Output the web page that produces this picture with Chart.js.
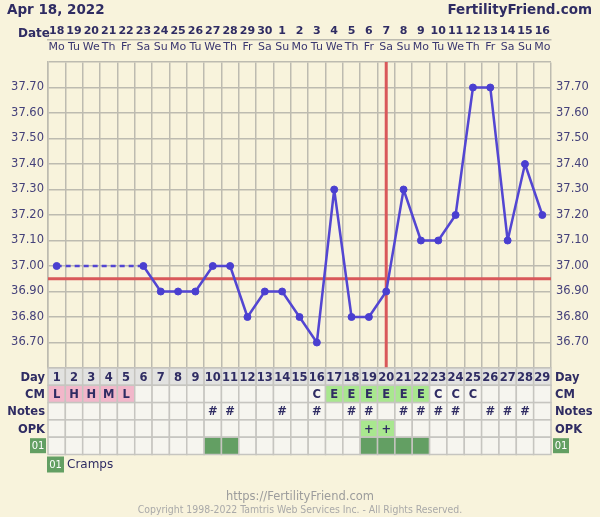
<!DOCTYPE html>
<html>
<head>
<meta charset="utf-8">
<script src="https://cdn.jsdelivr.net/npm/chart.js@4.4.0/dist/chart.umd.min.js"></script>
<style>
body { margin: 0; background: #f8f3dc; font-family: 'DejaVu Sans', sans-serif; }
#wrap { position: relative; width: 600px; height: 517px; overflow: hidden; }
canvas { position: absolute; left: 0; top: 0; }
.t { position: absolute; white-space: nowrap; }
</style>
</head>
<body>
<div id="wrap">
  <canvas id="ffChart" width="600" height="517"></canvas>
  <div class="t" style="left:7px;top:1px;font-weight:bold;font-size:13.5px;color:#2f2c63">Apr 18, 2022</div>
  <div class="t" style="right:8px;top:1px;font-weight:bold;font-size:13.5px;color:#2f2c63">FertilityFriend.com</div>
  <div class="t" style="left:18px;top:26px;font-weight:bold;font-size:12px;color:#2f2c63">Date</div>
  <div class="t" style="left:0;width:600px;text-align:center;top:489px;font-size:11.5px;color:#9c9c9c">https://FertilityFriend.com</div>
  <div class="t" style="left:0;width:600px;text-align:center;top:503px;font-size:10.4px;color:#a9a9a9;font-family:'Liberation Sans Narrow','DejaVu Sans Condensed',sans-serif">Copyright 1998-2022 Tamtris Web Services Inc. - All Rights Reserved.</div>
</div>
<script>
// dates along the top
const dates = ['18','19','20','21','22','23','24','25','26','27','28','29','30',
               '1','2','3','4','5','6','7','8','9','10','11','12','13','14','15','16'];
const weekdays = ['Mo','Tu','We','Th','Fr','Sa','Su','Mo','Tu','We','Th','Fr','Sa','Su',
                  'Mo','Tu','We','Th','Fr','Sa','Su','Mo','Tu','We','Th','Fr','Sa','Su','Mo'];
const cycleDays = ['1','2','3','4','5','6','7','8','9','10','11','12','13','14','15',
                   '16','17','18','19','20','21','22','23','24','25','26','27','28','29'];

// temperatures (null = not recorded)
const temps = [37.00, null, null, null, null, 37.00, 36.90, 36.90, 36.90, 37.00,
               37.00, 36.80, 36.90, 36.90, 36.80, 36.70, 37.30, 36.80, 36.80, 36.90,
               37.30, 37.10, 37.10, 37.20, 37.70, 37.70, 37.10, 37.40, 37.20];
const tempLabels = ['36.70','36.80','36.90','37.00','37.10','37.20','37.30','37.40','37.50','37.60','37.70'];
const coverline = 36.95;
const ovulationDay = 20;

// table rows
const cm = ['L','H','H','M','L','','','','','','','','','','','C','E','E','E','E','E','E','C','C','C','','','',''];
const notes = ['','','','','','','','','','#','#','','','#','','#','','#','#','','#','#','#','#','','#','#','#',''];
const opk = ['','','','','','','','','','','','','','','','','','','+','+','','','','','','','','',''];
const cramps = [0,0,0,0,0,0,0,0,0,1,1,0,0,0,0,0,0,0,1,1,1,1,0,0,0,0,0,0,0];

const navy = '#2f2c63';
const gridColor = '#bdbbb0';
const cellBg = '#f6f5ef';
const pink = '#f2b7ca';
const lightGreen = '#a9e78f';
const darkGreen = '#639f63';
const red = '#d9585a';

function greenTag(ctx, x, y, w, h) {
    ctx.fillStyle = darkGreen;
    ctx.fillRect(x, y, w, h);
    ctx.fillStyle = '#ffffff';
    ctx.font = '10px "DejaVu Sans"';
    ctx.textAlign = 'center';
    ctx.textBaseline = 'middle';
    ctx.fillText('01', x + w / 2, y + h / 2 + 0.5);
}

const ffPlugin = {
    id: 'ffTable',
    beforeDatasetsDraw(chart) {
        const ctx = chart.ctx, a = chart.chartArea;
        const xs = chart.scales.x, ys = chart.scales.y;
        ctx.save();
        ctx.strokeStyle = red;
        ctx.lineWidth = 3;
        // coverline
        const cy = ys.getPixelForValue(coverline);
        ctx.beginPath();
        ctx.moveTo(a.left, cy);
        ctx.lineTo(a.right, cy);
        ctx.stroke();
        // ovulation
        const ox = xs.getPixelForValue(ovulationDay - 1);
        ctx.beginPath();
        ctx.moveTo(ox, a.top);
        ctx.lineTo(ox, a.bottom);
        ctx.stroke();
        ctx.restore();
    },
    afterDraw(chart) {
        const ctx = chart.ctx, a = chart.chartArea;
        const xs = chart.scales.x;
        const colW = (a.right - a.left) / cycleDays.length;
        const rowH = 17.3;
        const rows = [
            { label: 'Day', text: cycleDays, fill: () => '#e2e2e0' },
            { label: 'CM', text: cm, fill: i => (cm[i] === 'E' ? lightGreen : (cm[i] && cm[i] !== 'C' ? pink : cellBg)) },
            { label: 'Notes', text: notes, fill: () => cellBg },
            { label: 'OPK', text: opk, fill: i => (opk[i] ? lightGreen : cellBg) },
            { label: null, text: null, fill: i => (cramps[i] ? darkGreen : cellBg) }
        ];
        ctx.save();
        rows.forEach((row, r) => {
            const y0 = a.bottom + r * rowH;
            cycleDays.forEach((d, i) => {
                const cx = xs.getPixelForValue(i);
                ctx.fillStyle = row.fill(i);
                ctx.fillRect(cx - colW / 2, y0, colW, rowH);
                ctx.strokeStyle = '#c6c5c0';
                ctx.lineWidth = 1.5;
                ctx.strokeRect(cx - colW / 2, y0, colW, rowH);
                if (row.text && row.text[i]) {
                    ctx.fillStyle = navy;
                    ctx.font = 'bold 11.5px "DejaVu Sans"';
                    ctx.textAlign = 'center';
                    ctx.textBaseline = 'middle';
                    ctx.fillText(row.text[i], cx, y0 + rowH / 2 + 1);
                }
            });
            if (row.label) {
                ctx.fillStyle = navy;
                ctx.font = 'bold 11.5px "DejaVu Sans"';
                ctx.textBaseline = 'middle';
                ctx.textAlign = 'right';
                ctx.fillText(row.label, a.left - 3, y0 + rowH / 2 + 1);
                ctx.textAlign = 'left';
                ctx.fillText(row.label, a.right + 4, y0 + rowH / 2 + 1);
            } else {
                greenTag(ctx, a.left - 18, y0 + 1, 16, 15);
                greenTag(ctx, a.right + 2, y0 + 1, 16, 15);
            }
        });
        // legend
        const ly = a.bottom + rows.length * rowH + 2;
        greenTag(ctx, a.left - 1, ly, 17, 16);
        ctx.fillStyle = navy;
        ctx.font = '12px "DejaVu Sans"';
        ctx.textAlign = 'left';
        ctx.textBaseline = 'middle';
        ctx.fillText('Cramps', a.left + 19, ly + 8);
        ctx.restore();
    }
};

const yMin = 36.6, yMax = 37.8;
function buildYTicks(s) {
    const t = [];
    for (let k = 0; k <= 24; k++) t.push({ value: +(yMin + k * 0.05).toFixed(2) });
    s.ticks = t;
}
function yLabel(v) {
    const s = Number(v).toFixed(2);
    return tempLabels.includes(s) ? s : '';
}
// dashed where days were skipped
function gapDash(c) {
    const gap = c.p0.skip || c.p1.skip || temps[c.p0DataIndex] === null ||
                c.p1DataIndex - c.p0DataIndex > 1;
    return gap ? [5, 4] : undefined;
}

new Chart(document.getElementById('ffChart'), {
    type: 'line',
    data: {
        labels: dates,
        datasets: [{
            data: temps,
            xAxisID: 'x',
            yAxisID: 'y',
            borderColor: '#5346d2',
            borderWidth: 2.5,
            borderJoinStyle: 'round',
            pointBackgroundColor: '#4a3fd0',
            pointBorderColor: '#4a3fd0',
            pointRadius: 3.5,
            pointBorderWidth: 1,
            spanGaps: true,
            tension: 0,
            segment: { borderDash: gapDash }
        }]
    },
    options: {
        responsive: false,
        animation: false,
        layout: { padding: { top: 0, left: 0, right: 0, bottom: 149 } },
        plugins: { legend: { display: false }, tooltip: { enabled: false } },
        scales: {
            x: {
                type: 'category',
                position: 'top',
                weight: 1,
                offset: true,
                grid: { offset: true, color: gridColor, lineWidth: 1.5, drawTicks: false },
                border: { display: true, color: gridColor, width: 1.5 },
                ticks: { autoSkip: false, maxRotation: 0, padding: 2, color: navy,
                         font: { family: 'DejaVu Sans', size: 11, weight: 'bold' } },
                afterFit: s => { s.height = 40; }
            },
            x2: {
                type: 'category',
                labels: weekdays,
                position: 'top',
                weight: 0,
                offset: true,
                grid: { display: false, drawTicks: false },
                border: { display: false },
                ticks: { autoSkip: false, maxRotation: 0, padding: 8, color: '#3a3770',
                         font: { family: 'DejaVu Sans', size: 11 } },
                afterFit: s => { s.height = 22; }
            },
            y: {
                position: 'left',
                min: yMin,
                max: yMax,
                afterBuildTicks: buildYTicks,
                grid: { color: gridColor, lineWidth: 1.5, drawTicks: false },
                border: { display: true, color: gridColor, width: 1.5 },
                ticks: { padding: 4, color: '#45417a', callback: yLabel,
                         font: { family: 'DejaVu Sans', size: 11.5 } },
                afterFit: s => { s.width = 48; }
            },
            y2: {
                position: 'right',
                min: yMin,
                max: yMax,
                afterBuildTicks: buildYTicks,
                grid: { display: false, drawTicks: false },
                border: { display: false },
                ticks: { padding: 5, color: '#45417a', callback: yLabel,
                         font: { family: 'DejaVu Sans', size: 11.5 } },
                afterFit: s => { s.width = 49; }
            }
        }
    },
    plugins: [ffPlugin]
});
</script>
</body>
</html>
